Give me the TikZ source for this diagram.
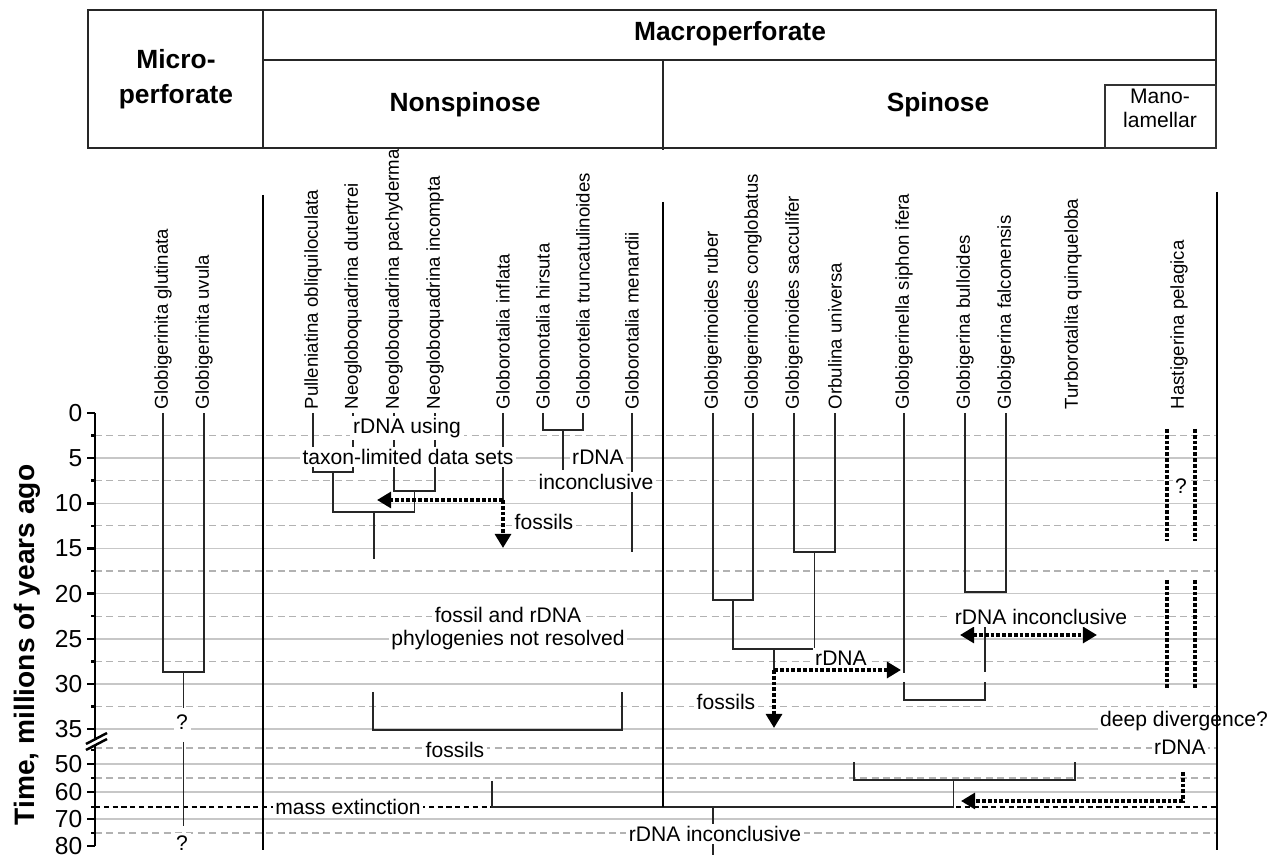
\documentclass[tikz,border=0pt]{standalone}
\usepackage{fontspec}
\setmainfont{Liberation Sans}
\usetikzlibrary{arrows.meta}

\tikzset{
  taxon/.style={rotate=90,anchor=west,inner sep=2pt,font=\fontsize{10.6}{12}\selectfont},
  note/.style={fill=white,inner sep=1.5pt,font=\fontsize{12}{13}\selectfont},
  head/.style={align=center,font=\bfseries\fontsize{15}{20}\selectfont},
  branch/.style={draw=black!85,line width=0.7pt},
  major/.style={draw=black!22,line width=0.9pt},
  minor/.style={draw=black!30,line width=0.6pt,dash pattern=on 4pt off 2.5pt},
  extinct/.style={draw=black,line width=0.6pt,dash pattern=on 3pt off 2pt},
  divider/.style={draw=black,line width=0.9pt},
  frame/.style={draw=black!85,line width=1.2pt},
  axis/.style={draw=black,line width=1.4pt},
  fat/.style={line width=2.3pt,dash pattern=on 2.2pt off 1.1pt},
  fatarrow/.style={fat,-{Triangle[length=8pt,width=9pt]}},
}

\begin{document}
\begin{tikzpicture}[x=0.02cm,y=-0.02cm]
\useasboundingbox (0,0) rectangle (1275,857);

\foreach \y in {458,503.3,548.5,593.6,638.8,684,729,764,792,819}
  \draw[major] (95,\y) -- (1217,\y);
\foreach \y in {435.6,480.7,525.9,571,616.2,661.3,706.5,748,778,833}
  \draw[minor] (95,\y) -- (1217,\y);
\draw[extinct] (95,807) -- (1217,807);

\coordinate (glu) at (163,413);
\coordinate (uvu) at (204,413);
\coordinate (pul) at (313,413);
\coordinate (dut) at (353,413);
\coordinate (pac) at (394,413);
\coordinate (inc) at (435,413);
\coordinate (inf) at (503,413);
\coordinate (hir) at (543,413);
\coordinate (tru) at (583,413);
\coordinate (men) at (632,413);
\coordinate (rub) at (713,413);
\coordinate (con) at (753,413);
\coordinate (sac) at (794,413);
\coordinate (orb) at (835,413);
\coordinate (sip) at (904,413);
\coordinate (bul) at (965,413);
\coordinate (fal) at (1006,413);
\coordinate (tur) at (1073,413);
\coordinate (has) at (1179,413);

\node[taxon] (gluL) at (glu) {Globigerinita glutinata};
\node[taxon] (uvuL) at (uvu) {Globigerinita uvula};
\node[taxon] (pulL) at (pul) {Pulleniatina obliquiloculata};
\node[taxon] (dutL) at (dut) {Neogloboquadrina dutertrei};
\node[taxon] (pacL) at (pac) {Neogloboquadrina pachyderma};
\node[taxon] (incL) at (inc) {Neogloboquadrina incompta};
\node[taxon] (infL) at (inf) {Globorotalia inflata};
\node[taxon] (hirL) at (hir) {Globonotalia hirsuta};
\node[taxon] (truL) at (tru) {Globorotelia truncatulinoides};
\node[taxon] (menL) at (men) {Globorotalia menardii};
\node[taxon] (rubL) at (rub) {Globigerinoides ruber};
\node[taxon] (conL) at (con) {Globigerinoides conglobatus};
\node[taxon] (sacL) at (sac) {Globigerinoides sacculifer};
\node[taxon] (orbL) at (orb) {Orbulina universa};
\node[taxon] (sipL) at (sip) {Globigerinella siphon ifera};
\node[taxon] (bulL) at (bul) {Globigerina bulloides};
\node[taxon] (falL) at (fal) {Globigerina falconensis};
\node[taxon] (turL) at (tur) {Turborotalita quinqueloba};
\node[taxon] (hasL) at (has) {Hastigerina pelagica};

\coordinate (m1) at (183.5,672);
\draw[branch] (glu) |- (m1) -| (uvu);
\draw[branch] (m1) -- (183.5,708);
\draw[branch] (183.5,742) -- (183.5,826);

\coordinate (n1) at (333,472);
\coordinate (n2) at (414.5,491);
\coordinate (n3) at (374,512);
\coordinate (n4) at (563,430);
\draw[branch] (pul) |- (n1) -| (dut);
\draw[branch] (pac) |- (n2) -| (inc);
\draw[branch] (n1) |- (n3) -| (n2);
\draw[branch] (n3) -- (374,559);
\draw[branch] (inf) -- (503,500) coordinate (fa);
\draw[branch] (hir) |- (n4) -| (tru);
\draw[branch] (n4) -- (563,470);
\draw[branch] (men) -- (632,552);
\draw[branch] (373,692) |- (622,730) -- (622,692);
\draw[branch] (492,781) |- (953.5,807);

\coordinate (s1) at (733,600);
\coordinate (s2) at (814.5,552);
\coordinate (s3) at (774,649);
\coordinate (s4) at (985.5,592);
\draw[branch] (rub) |- (s1) -| (con);
\draw[branch] (sac) |- (s2) -| (orb);
\draw[branch] (s1) |- (s3) -| (s2);
\draw[branch] (s3) -- (774,670) coordinate (sa);
\draw[branch] (sip) -- (904,673);
\draw[branch] (904,682) |- (985,700) -- (985,682);
\draw[branch] (985,672) -- (985,626);
\draw[branch] (bul) |- (s4) -| (fal);
\draw[branch] (854,762) |- (1075,780) -- (1075,762);
\draw[branch] (953.5,780) -- (953.5,807);
\draw[branch] (713,807) -- (713,855);

\draw[divider] (263,195) -- (263,850);
\draw[divider] (663,202) -- (663,807);

\draw[fatarrow] (fa) -- (377,500);
\draw[fatarrow] (fa) -- (503,548);
\draw[fatarrow] (sa) -- (901,670);
\draw[fatarrow] (sa) -- (774,728);
\draw[fat,{Triangle[length=8pt,width=9pt]}-{Triangle[length=8pt,width=9pt]}] (960,635) -- (1097,635);
\draw[fat] (1167,429) -- (1167,541);
\draw[fat] (1195,429) -- (1195,541);
\draw[fat] (1167,580) -- (1167,688);
\draw[fat] (1195,580) -- (1195,688);
\draw[fatarrow] (1183,772) |- (961,801);

\node[note] (q1) at (182,722) {?};
\node[note] (q2) at (182,843) {?};
\node[note] (q3) at (1181,486) {?};
\node[note] (use1) at (407,428) {rDNA using};
\node[note] (use2) at (408,457) {taxon-limited data sets};
\node[note] (fos1) at (544,522) {fossils};
\node[note] (inc1) at (598,457) {rDNA};
\node[note] (inc2) at (596,482) {inconclusive};
\node[note] (unr1) at (508,615) {fossil and rDNA};
\node[note] (unr2) at (508,640) {phylogenies not resolved};
\node[note] (fos2) at (455,750) {fossils};
\node[note] (ext) at (348,807) {mass extinction};
\node[note] (inc3) at (715,834) {rDNA inconclusive};
\node[note] (fos3) at (726,702) {fossils};
\node[note] (rdna1) at (841,658) {rDNA};
\node[note] (inc4) at (1041,617) {rDNA inconclusive};
\node[note] (deep) at (1184,721) {deep divergence?};
\node[note] (rdna2) at (1180,747) {rDNA};

\draw[divider] (1217,192) -- (1217,850);

\draw[axis] (95,413) -- (95,739);
\draw[axis] (95,745) -- (95,846);
\draw[axis] (86,744) -- (107,733);
\draw[axis] (86,750) -- (107,739);
\foreach \y/\t in {413/0,458/5,503.3/10,548.5/15,593.6/20,638.8/25,684/30,729/35,764/50,792/60,819/70,846/80}
  \draw[axis] (95,\y) -- (87,\y) node[anchor=east,inner sep=2pt,font=\fontsize{14}{15}\selectfont] {\t};
\foreach \y in {435.6,480.7,525.9,571,616.2,661.3,706.5,750,778,807,833}
  \draw[axis] (95,\y) -- (91,\y);
\node[rotate=90,font=\bfseries\fontsize{16}{19}\selectfont] (ttl) at (27,645) {Time, millions of years ago};

\draw[frame] (88,10) rectangle (1216,148);
\draw[frame] (263,10) -- (263,148);
\draw[frame] (263,60) -- (1216,60);
\draw[frame] (663,60) -- (663,150);
\draw[draw=black!80,line width=0.6pt] (1105,85) rectangle (1216,148);
\node[head] (micro) at (176,79) {Micro-\\perforate};
\node[head] (macro) at (730,34) {Macroperforate};
\node[head] (nonsp) at (465,105) {Nonspinose};
\node[head] (spin) at (938,105) {Spinose};
\node[align=center,font=\fontsize{12}{13.5}\selectfont] (mano) at (1160,108) {Mano-\\lamellar};
\end{tikzpicture}
\end{document}
